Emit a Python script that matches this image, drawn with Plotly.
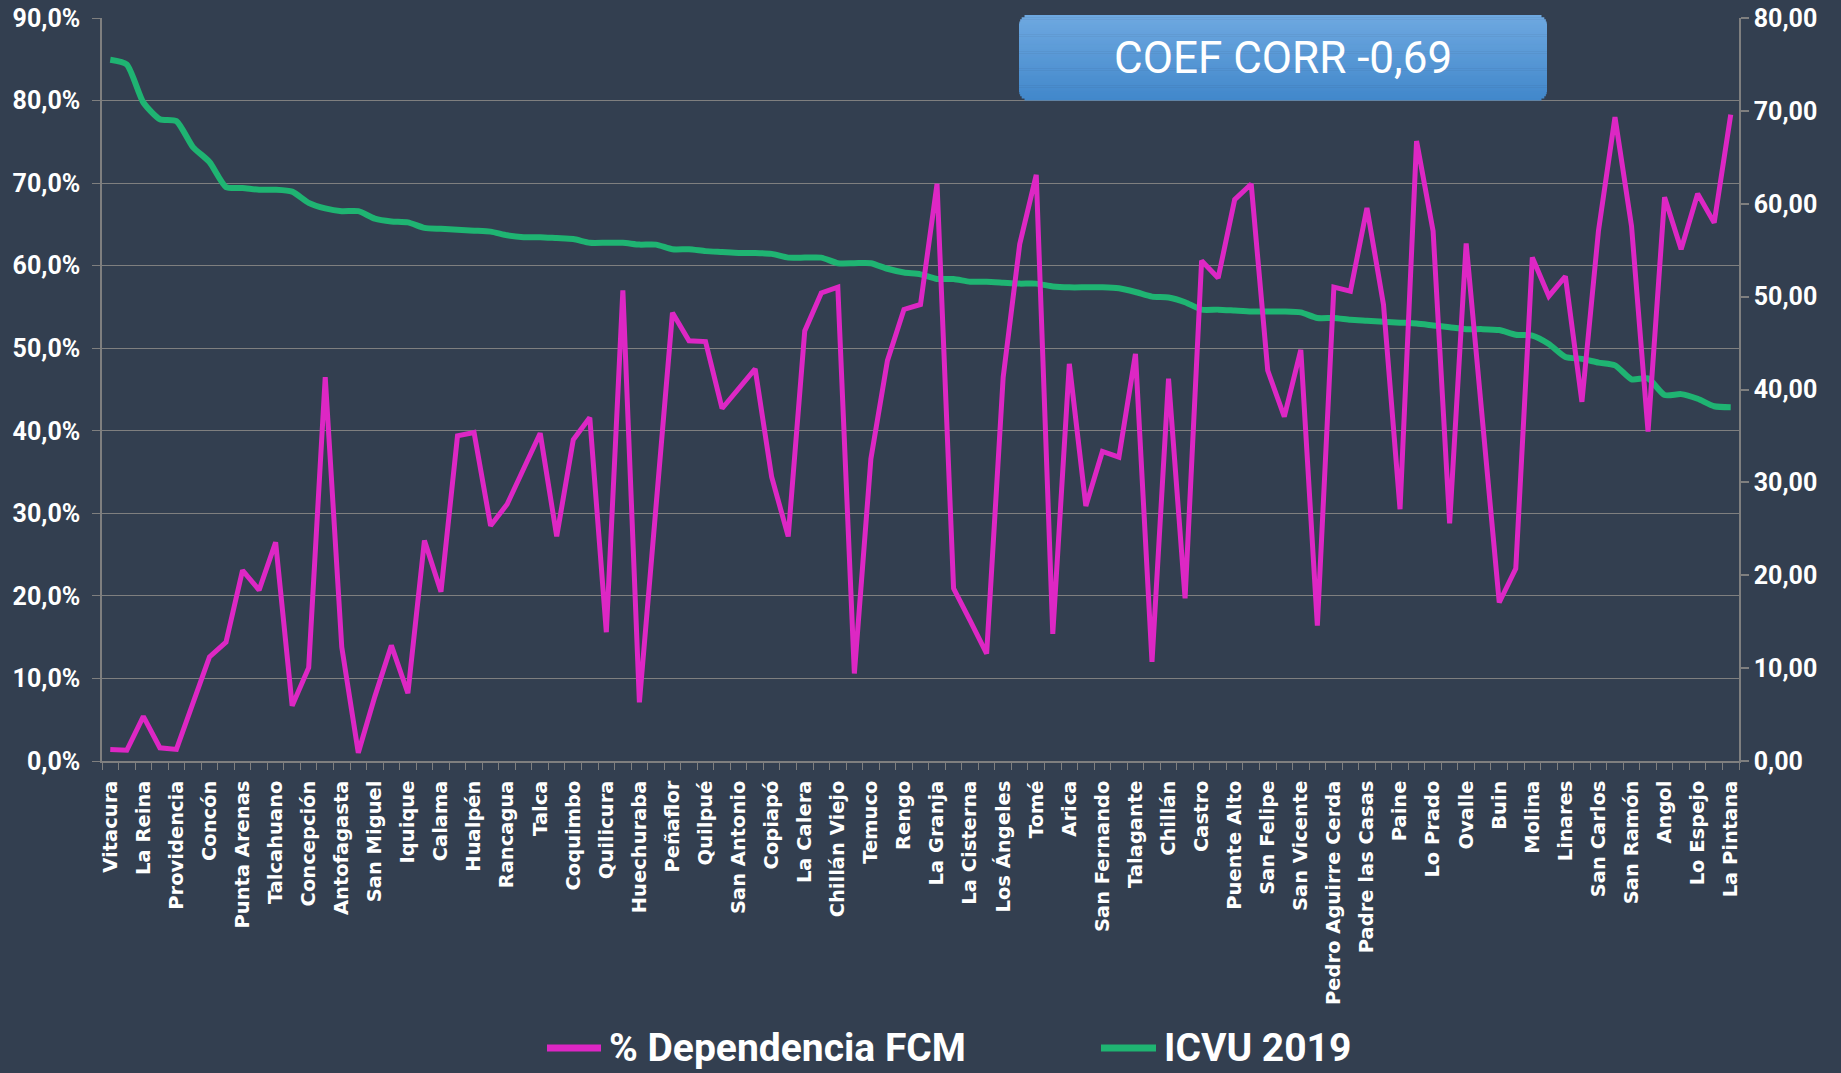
import math
import plotly.graph_objects as go

# ---------------- DATA ----------------
comunas_rotuladas = ["Vitacura", "La Reina", "Providencia", "Concón", "Punta Arenas", "Talcahuano",
                     "Concepción", "Antofagasta", "San Miguel", "Iquique", "Calama", "Hualpén",
                     "Rancagua", "Talca", "Coquimbo", "Quilicura", "Huechuraba", "Peñaflor",
                     "Quilpué", "San Antonio", "Copiapó", "La Calera", "Chillán Viejo", "Temuco",
                     "Rengo", "La Granja", "La Cisterna", "Los Ángeles", "Tomé", "Arica",
                     "San Fernando", "Talagante", "Chillán", "Castro", "Puente Alto", "San Felipe",
                     "San Vicente", "Pedro Aguirre Cerda", "Padre las Casas", "Paine", "Lo Prado",
                     "Ovalle", "Buin", "Molina", "Linares", "San Carlos", "San Ramón", "Angol",
                     "Lo Espejo", "La Pintana"]

# % Dependencia FCM (percent), one value per comuna (99 comunas, labels every second one)
dependencia_fcm = [1.4, 1.3, 5.4, 1.6, 1.4, 7.0, 12.6, 14.4, 23.1, 20.7,
                   26.5, 6.7, 11.3, 46.5, 13.8, 1.0, 7.8, 14.0, 8.2, 26.7,
                   20.5, 39.4, 39.8, 28.5, 31.1, 35.4, 39.7, 27.2, 38.9, 41.6,
                   15.6, 57.0, 7.1, 30.7, 54.3, 50.9, 50.8, 42.7, 45.1, 47.5,
                   34.4, 27.2, 52.1, 56.7, 57.4, 10.6, 36.6, 48.5, 54.7, 55.3,
                   69.9, 20.9, 17.0, 13.0, 46.5, 62.6, 71.0, 15.4, 48.1, 30.9,
                   37.5, 36.8, 49.3, 12.0, 46.3, 19.7, 60.6, 58.5, 68.0, 69.9,
                   47.3, 41.7, 49.8, 16.4, 57.4, 56.9, 67.0, 55.3, 30.5, 75.1,
                   64.2, 28.8, 62.7, 41.0, 19.2, 23.3, 61.0, 56.3, 58.7, 43.5,
                   64.2, 78.0, 64.8, 39.9, 68.3, 62.0, 68.7, 65.2, 78.3]

# ICVU 2019
icvu_2019 = [75.5, 75.0, 70.9, 69.1, 68.9, 66.1, 64.5, 61.8, 61.7, 61.5,
             61.5, 61.3, 60.1, 59.5, 59.2, 59.2, 58.4, 58.1, 58.0, 57.4,
             57.3, 57.2, 57.1, 57.0, 56.6, 56.4, 56.4, 56.3, 56.2, 55.8,
             55.8, 55.8, 55.6, 55.6, 55.1, 55.1, 54.9, 54.8, 54.7, 54.7,
             54.6, 54.2, 54.2, 54.2, 53.6, 53.6, 53.6, 53.0, 52.6, 52.4,
             51.9, 51.9, 51.6, 51.6, 51.5, 51.4, 51.4, 51.1, 51.0, 51.0,
             51.0, 50.9, 50.5, 50.0, 49.9, 49.4, 48.6, 48.6, 48.5, 48.4,
             48.4, 48.4, 48.3, 47.7, 47.7, 47.5, 47.4, 47.3, 47.2, 47.1,
             46.9, 46.7, 46.5, 46.5, 46.4, 45.9, 45.8, 44.9, 43.5, 43.3,
             42.9, 42.6, 41.1, 41.2, 39.4, 39.5, 39.0, 38.2, 38.1]

serie_nombres = ["% Dependencia FCM", "ICVU 2019"]
coef_texto = "COEF CORR -0,69"

# ---------------- STYLE ----------------
W, H = 1841, 1073
ML, MR, MT, MB = 102, 102, 18, 312
PW = W - ML - MR
PH = H - MT - MB
BG = "#333F50"
MAG = "#DD27C4"
GRN = "#1FB472"
GRID = "#7F7F7F"
NARROW = "Liberation Sans Narrow, Arial Narrow, Roboto, sans-serif"


def px_x(x):
    return (x - ML) / PW


def px_y(y):
    return (H - MB - y) / PH


pos = list(range(len(dependencia_fcm)))

fig = go.Figure()
# green on base axis (right side) so magenta (overlay axis) is drawn on top
fig.add_trace(go.Scatter(x=pos, y=icvu_2019, name=serie_nombres[1], mode="lines",
                         line=dict(color=GRN, width=6, shape="spline", smoothing=0.6),
                         yaxis="y", showlegend=False))
fig.add_trace(go.Scatter(x=pos, y=[v / 100 for v in dependencia_fcm], name=serie_nombres[0],
                         mode="lines", line=dict(color=MAG, width=5), yaxis="y2",
                         showlegend=False))

# rounded gradient box for the correlation label
bx0, bx1, by0, by1, rad = 1019, 1547, 15, 100, 10
nstrips = 40
top_c = (110, 168, 224)
bot_c = (66, 136, 203)
shapes = []
sh = (by1 - by0) / nstrips
for j in range(nstrips):
    ya = by0 + j * sh
    yb = ya + sh
    yc = (ya + yb) / 2
    d = min(yc - by0, by1 - yc)
    inset = 0.0
    if d < rad:
        inset = rad - math.sqrt(max(rad ** 2 - (rad - d) ** 2, 0))
    t = j / (nstrips - 1)
    c = tuple(int(round(top_c[k] + (bot_c[k] - top_c[k]) * t)) for k in range(3))
    shapes.append(dict(type="rect", xref="paper", yref="paper", layer="above",
                       x0=px_x(bx0 + inset), x1=px_x(bx1 - inset),
                       y0=px_y(yb + 0.6), y1=px_y(ya),
                       fillcolor="rgb(%d,%d,%d)" % c, line=dict(width=0)))

# custom legend (long line samples)
leg_y = 1048
leg_items = [(547, 601, 607, MAG, serie_nombres[0]), (1101, 1156, 1162, GRN, serie_nombres[1])]
annotations = []
for lx0, lx1, tx, col, name in leg_items:
    shapes.append(dict(type="line", xref="paper", yref="paper", x0=px_x(lx0), x1=px_x(lx1),
                       y0=px_y(leg_y), y1=px_y(leg_y), line=dict(color=col, width=7)))
    annotations.append(dict(text=name, xref="paper", yref="paper", x=px_x(tx), y=px_y(leg_y),
                            xanchor="left", yanchor="middle", showarrow=False,
                            font=dict(family=NARROW, size=39, color="white", weight="bold")))

annotations.append(dict(text=coef_texto, xref="paper", yref="paper",
                        x=px_x((bx0 + bx1) / 2), y=px_y((by0 + by1) / 2 + 1),
                        xanchor="center", yanchor="middle", showarrow=False,
                        font=dict(family=NARROW, size=44, color="white")))

fig.update_layout(
    width=W, height=H, autosize=False,
    paper_bgcolor=BG, plot_bgcolor=BG,
    margin=dict(l=ML, r=MR, t=MT, b=MB, pad=0),
    separators=",.",
    showlegend=False,
    xaxis=dict(range=[-0.5, len(pos) - 0.5], tickmode="array",
               tickvals=pos[::2], ticktext=comunas_rotuladas, tickangle=-90,
               tickfont=dict(family="DejaVu Sans, Verdana, sans-serif", size=19.5, color="white",
                             weight="bold"),
               ticks="", showgrid=False, zeroline=False, showline=True, linecolor=GRID,
               linewidth=1.5, ticklabelstandoff=10, automargin=False,
               minor=dict(tick0=-0.5, dtick=1, ticks="outside", ticklen=7, tickcolor=GRID,
                          tickwidth=1, showgrid=False)),
    yaxis=dict(side="right", range=[0, 80], dtick=10, tickformat=".2f",
               tickfont=dict(family=NARROW, size=25, color="white", weight="bold"),
               showgrid=False, zeroline=False, showline=True, linecolor=GRID, linewidth=1.5,
               ticks="outside", ticklen=8, tickcolor=GRID, tickwidth=1.5, automargin=False),
    yaxis2=dict(overlaying="y", side="left", range=[0, 0.9], dtick=0.1, tickformat=".1%",
                tickfont=dict(family=NARROW, size=25, color="white", weight="bold"),
                showgrid=True, gridcolor=GRID, gridwidth=1.3, zeroline=False,
                showline=True, linecolor=GRID, linewidth=1.5, automargin=False,
                ticks="outside", ticklen=8, tickcolor=GRID, tickwidth=1.3,
                ticklabelstandoff=7),
    shapes=shapes,
    annotations=annotations,
)

fig.write_html("out.html", config={"displayModeBar": False},
               post_script="document.body.style.margin='0';"
                           "document.body.style.background='%s';"
                           "document.documentElement.style.background='%s';" % (BG, BG))
